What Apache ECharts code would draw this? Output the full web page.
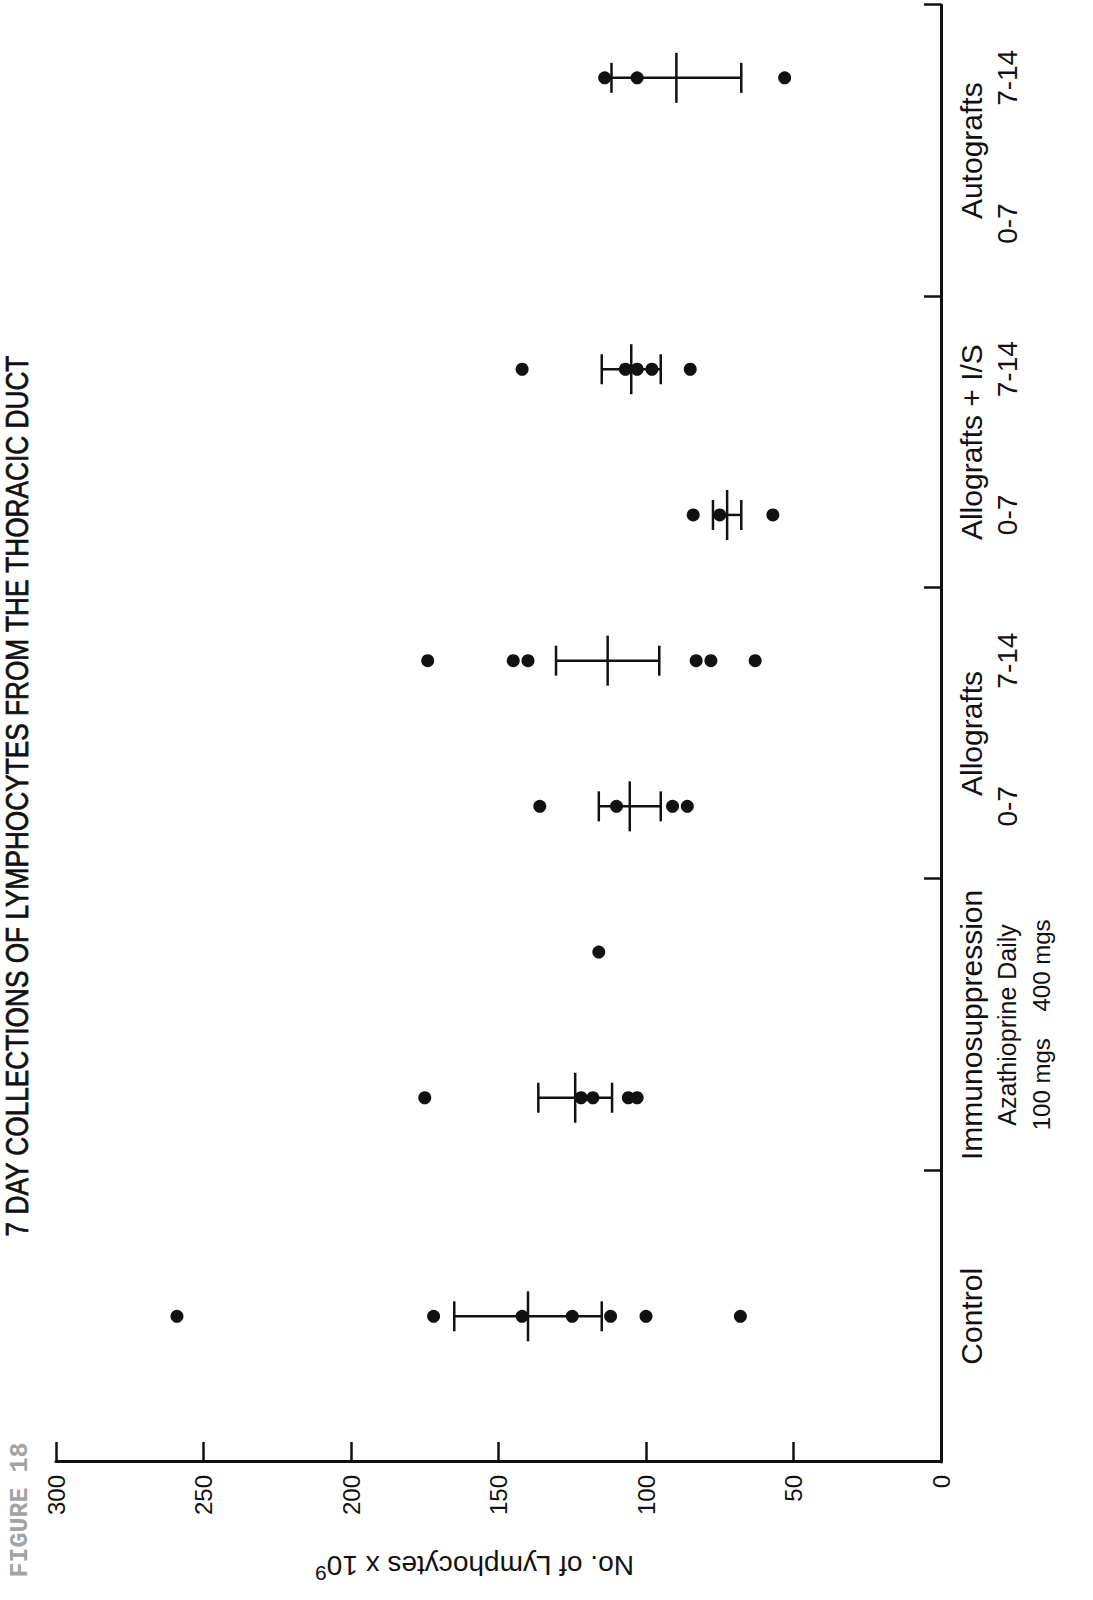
<!DOCTYPE html>
<html>
<head>
<meta charset="utf-8">
<script src="https://cdn.jsdelivr.net/npm/echarts@6/dist/echarts.min.js"></script>
<style>
html,body{margin:0;padding:0;background:#fff;overflow:hidden;width:1093px;height:1600px;}
#wrap{position:absolute;left:0;top:0;width:1600px;height:1093px;transform-origin:0 0;transform:translateY(1600px) rotate(-90deg);}
</style>
</head>
<body>
<div id="wrap"></div>
<script>
// ---------- data ----------
const titleText = '7 DAY COLLECTIONS OF LYMPHOCYTES FROM THE THORACIC DUCT';
const figureText = 'FIGURE 18';
const valueAxisName = 'No. of Lymphocytes x 10';
const valueAxisExp = '9';
const valueMin = 0, valueMax = 300, valueStep = 50;

const groupLabels = ['Control', 'Immunosuppression', 'Allografts', 'Allografts + I/S', 'Autografts'];
const immunoSubLines = ['Azathioprine Daily', '100 mgs    400 mgs'];
const subgroupLabels = ['', '', '', '', '0-7', '7-14', '0-7', '7-14', '0-7', '7-14'];

// slot positions on the category scale (each group = 2 slots)
const controlSlot = 1, aza100Slot = 2.5, aza400Slot = 3.5, allo07Slot = 4.5, allo714Slot = 5.5,
      alloIS07Slot = 6.5, alloIS714Slot = 7.5, auto714Slot = 9.5;

const control   = [259, 172, 142, 125, 112, 100, 68];
const aza100    = [175, 122, 118, 106, 103];
const aza400    = [116];
const allo07    = [136, 110, 91, 86];
const allo714   = [174, 145, 140, 83, 78, 63];
const alloIS07  = [84, 75, 57];
const alloIS714 = [142, 107, 103, 98, 85];
const auto714   = [114, 103, 53];

const meanSlots  = [1, 2.5, 4.5, 5.5, 6.5, 7.5, 9.5];
const meanValues = [140, 124, 105.5, 113, 72.5, 105, 89.7];
const seValues   = [25, 12.5, 10.5, 17.5, 4.8, 10, 22];

// ---------- build ----------
function pts(slot, arr) { return arr.map(v => [slot, v]); }
const scatterData = [].concat(
  pts(controlSlot, control), pts(aza100Slot, aza100), pts(aza400Slot, aza400),
  pts(allo07Slot, allo07), pts(allo714Slot, allo714), pts(alloIS07Slot, alloIS07),
  pts(alloIS714Slot, alloIS714), pts(auto714Slot, auto714)
);
const errData = meanSlots.map((s, i) => [s, meanValues[i], seValues[i]]);

const ink = '#111';
const font = "'Liberation Sans', Arial, sans-serif";

const chart = echarts.init(document.getElementById('wrap'), null, {renderer: 'svg', width: 1600, height: 1093});

function renderErr(params, api) {
  const x = api.value(0), m = api.value(1), se = api.value(2);
  const a = api.coord([x, m + se]), b = api.coord([x, m - se]), c = api.coord([x, m]);
  const cap = 15, half = 25;
  const st = {stroke: ink, lineWidth: 2.5};
  return {type: 'group', children: [
    {type: 'line', shape: {x1: a[0], y1: a[1], x2: b[0], y2: b[1]}, style: st},
    {type: 'line', shape: {x1: a[0] - cap, y1: a[1], x2: a[0] + cap, y2: a[1]}, style: st},
    {type: 'line', shape: {x1: b[0] - cap, y1: b[1], x2: b[0] + cap, y2: b[1]}, style: st},
    {type: 'line', shape: {x1: c[0] - half, y1: c[1], x2: c[0] + half, y2: c[1]}, style: st}
  ]};
}

chart.setOption({
  animation: false,
  backgroundColor: '#fff',
  grid: {left: 138, right: 5, top: 56, bottom: 152, containLabel: false},
  xAxis: [
    {type: 'value', min: 0, max: 10, interval: 2, position: 'bottom',
     axisLine: {show: true, lineStyle: {color: ink, width: 3}},
     axisTick: {show: true, inside: true, length: 17, lineStyle: {color: ink, width: 2.5}},
     axisLabel: {show: false}, splitLine: {show: false}},
    {type: 'category', data: groupLabels, position: 'bottom', offset: 0, boundaryGap: true,
     axisLine: {show: false}, axisTick: {show: false}, splitLine: {show: false},
     axisLabel: {interval: 0, margin: 13, color: ink, verticalAlign: 'top',
       formatter: function (v, i) {
         return i === 1 ? '{g|' + v + '}\n{s|' + immunoSubLines[0] + '}\n{t|' + immunoSubLines[1] + '}' : '{g|' + v + '}';
       },
       rich: {
         g: {fontFamily: font, fontSize: 30, lineHeight: 35, color: ink},
         s: {fontFamily: font, fontSize: 25, lineHeight: 35, color: ink},
         t: {fontFamily: font, fontSize: 24, lineHeight: 35, color: ink}
       }}},
    {type: 'category', data: subgroupLabels, position: 'bottom', offset: 0, boundaryGap: true,
     axisLine: {show: false}, axisTick: {show: false}, splitLine: {show: false},
     axisLabel: {interval: 0, margin: 50, color: ink, fontFamily: font, fontSize: 28, lineHeight: 33, verticalAlign: 'top'}}
  ],
  yAxis: {
    type: 'value', min: valueMin, max: valueMax, interval: valueStep, position: 'left',
    axisLine: {show: true, lineStyle: {color: ink, width: 3}},
    axisTick: {show: true, inside: true, length: 20, lineStyle: {color: ink, width: 2.5}},
    axisLabel: {margin: 13, color: ink, fontFamily: font, fontSize: 24},
    splitLine: {show: false},
    name: '{a|' + valueAxisName + '}{s|' + valueAxisExp + '}',
    nameLocation: 'middle', nameRotate: 90, nameGap: 85,
    nameTextStyle: {padding: [0, 0, 0, 48], rich: {
      a: {fontFamily: font, fontSize: 28, color: ink},
      s: {fontFamily: font, fontSize: 21, color: ink, padding: [0, 0, 16, 0]}
    }}
  },
  graphic: [
    {type: 'text', x: 804, y: 17, scaleX: 0.82, silent: true,
     style: {text: titleText, font: "32px 'Liberation Sans', Arial, sans-serif", fill: ink, stroke: ink, lineWidth: 0.7,
             align: 'center', verticalAlign: 'middle'}},
    {type: 'text', x: 90, y: 20, silent: true,
     style: {text: figureText, font: "bold 25px 'Liberation Mono', 'DejaVu Sans Mono', monospace", fill: '#a3a3a3',
             align: 'center', verticalAlign: 'middle'}}
  ],
  series: [
    {type: 'scatter', xAxisIndex: 0, symbol: 'circle', symbolSize: 13, data: scatterData,
     itemStyle: {color: ink, opacity: 1}, z: 3},
    {type: 'custom', xAxisIndex: 0, renderItem: renderErr, data: errData, z: 2}
  ]
});
</script>
</body>
</html>
